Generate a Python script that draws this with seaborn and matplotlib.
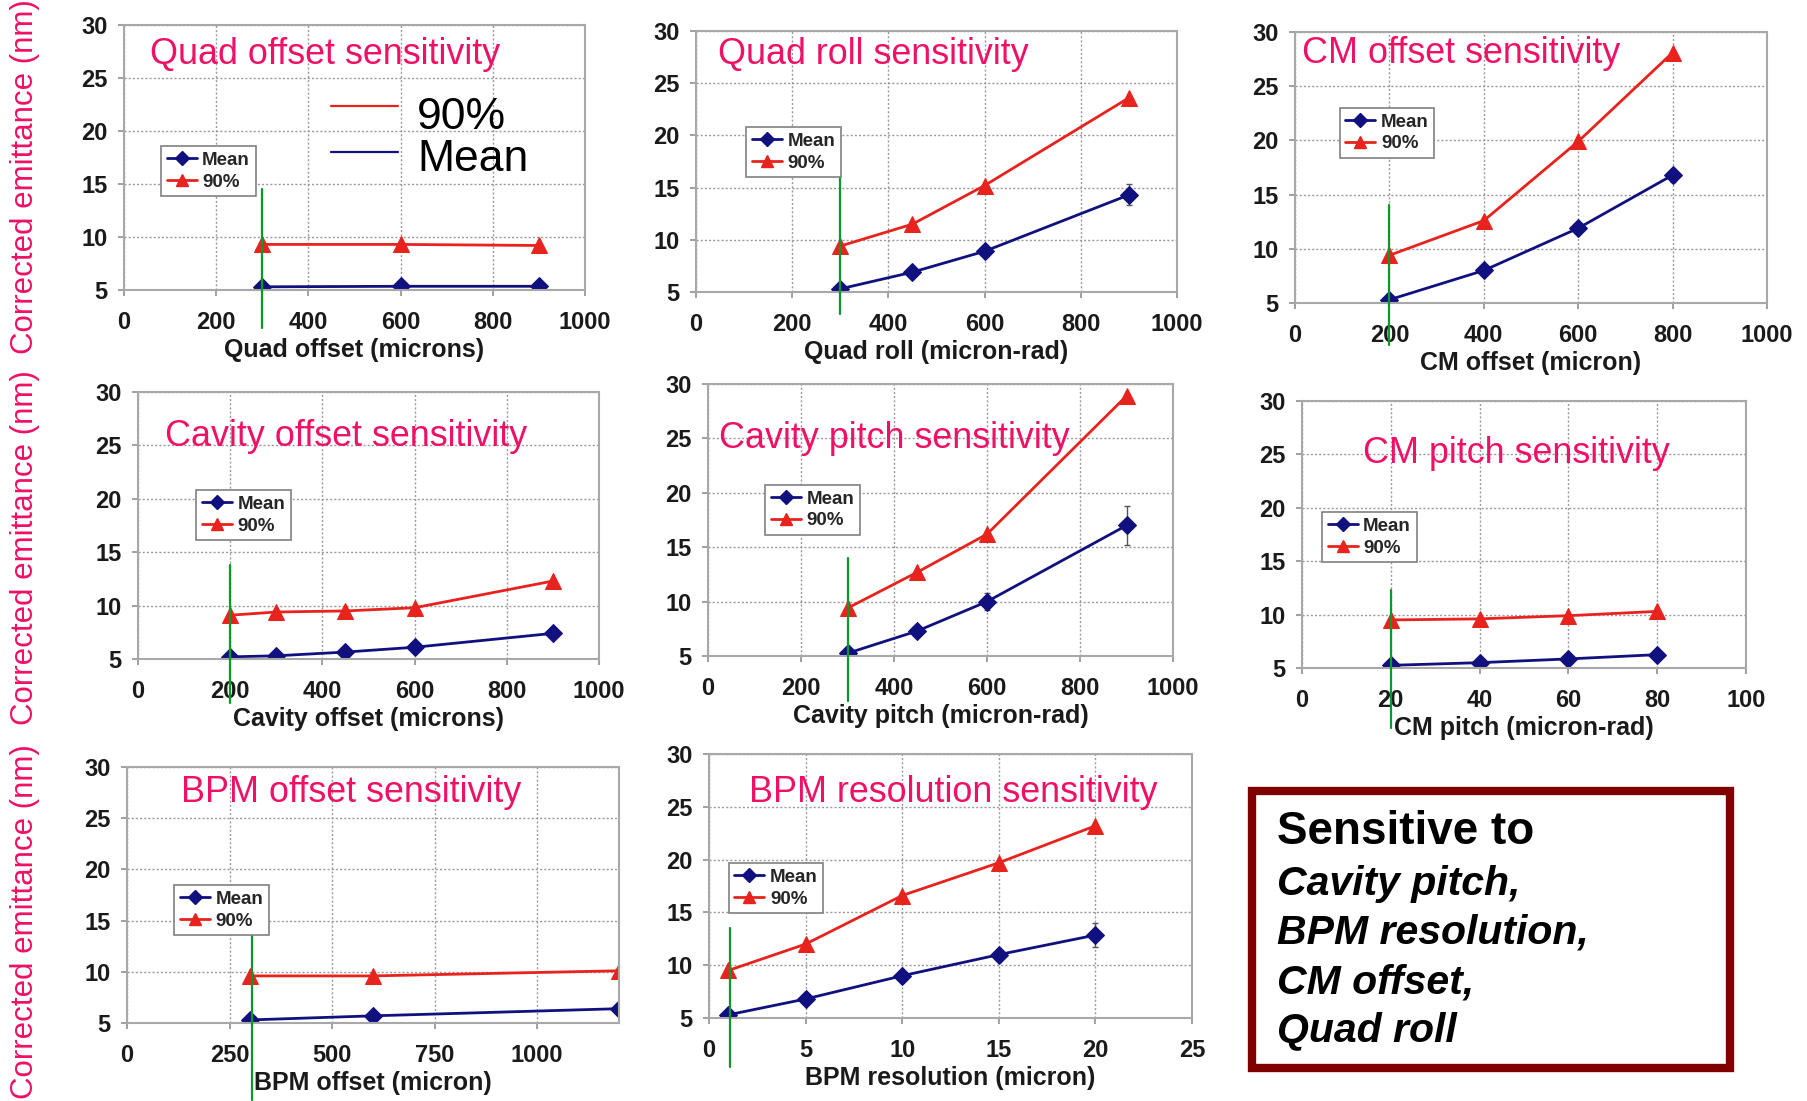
import matplotlib
matplotlib.use("Agg")
import matplotlib.pyplot as plt
from matplotlib.lines import Line2D
from matplotlib.patches import Rectangle
import seaborn as sns

# ---------------- data ----------------
quad_off_x = [300, 600, 900]
quad_off_mean = [5.3, 5.35, 5.35]
quad_off_p90 = [9.3, 9.3, 9.2]

quad_roll_x = [300, 450, 600, 900]
quad_roll_mean = [5.3, 6.9, 8.9, 14.3]
quad_roll_p90 = [9.4, 11.5, 15.2, 23.6]

cm_off_x = [200, 400, 600, 800]
cm_off_mean = [5.3, 8.0, 11.9, 16.8]
cm_off_p90 = [9.4, 12.6, 19.9, 28.1]

cav_off_x = [200, 300, 450, 600, 900]
cav_off_mean = [5.2, 5.3, 5.65, 6.1, 7.4]
cav_off_p90 = [9.1, 9.4, 9.5, 9.8, 12.3]

cav_pitch_x = [300, 450, 600, 900]
cav_pitch_mean = [5.25, 7.3, 10.0, 17.0]
cav_pitch_p90 = [9.4, 12.7, 16.2, 28.9]

cm_pitch_x = [20, 40, 60, 80]
cm_pitch_mean = [5.25, 5.5, 5.85, 6.25]
cm_pitch_p90 = [9.5, 9.6, 9.9, 10.3]

bpm_off_x = [300, 600, 1200]
bpm_off_mean = [5.3, 5.7, 6.4]
bpm_off_p90 = [9.6, 9.6, 10.1]

bpm_res_x = [1, 5, 10, 15, 20]
bpm_res_mean = [5.3, 6.8, 9.0, 11.0, 12.85]
bpm_res_p90 = [9.5, 12.0, 16.6, 19.7, 23.2]

titles = ["Quad offset sensitivity", "Quad roll sensitivity", "CM offset sensitivity",
          "Cavity offset sensitivity", "Cavity pitch sensitivity", "CM pitch sensitivity",
          "BPM offset sensitivity", "BPM resolution sensitivity"]
xlabels = ["Quad offset (microns)", "Quad roll (micron-rad)", "CM offset (micron)",
           "Cavity offset (microns)", "Cavity pitch (micron-rad)", "CM pitch (micron-rad)",
           "BPM offset (micron)", "BPM resolution (micron)"]
xmaxes = [1000, 1000, 1000, 1000, 1000, 100, 1200, 25]
xtick_steps = [200, 200, 200, 200, 200, 20, 250, 5]
yticks = [5, 10, 15, 20, 25, 30]

# nominal-value marker line (x, top y, bottom y)
green_x = [300, 300, 200, 200, 300, 20, 305, 1.1]
green_top = [14.5, 16.2, 14.0, 13.8, 14.0, 12.3, 16.0, 13.5]
green_bot = [1.4, 2.9, 1.1, 0.9, 0.9, -0.6, -2.5, 0.4]

# error bars on the Mean series: (panel index, x, y, half-width)
err_panel = [1, 4, 4, 7, 2]
err_x = [900, 900, 600, 20, 800]
err_y = [14.3, 17.0, 10.0, 12.85, 16.8]
err_e = [1.0, 1.8, 0.8, 1.1, 0.6]

ylabel = "Corrected emittance (nm)"
summary_head = "Sensitive to"
summary_items = ["Cavity pitch,", "BPM resolution,", "CM offset,", "Quad roll"]

xs = [quad_off_x, quad_roll_x, cm_off_x, cav_off_x, cav_pitch_x, cm_pitch_x, bpm_off_x, bpm_res_x]
means = [quad_off_mean, quad_roll_mean, cm_off_mean, cav_off_mean, cav_pitch_mean,
         cm_pitch_mean, bpm_off_mean, bpm_res_mean]
p90s = [quad_off_p90, quad_roll_p90, cm_off_p90, cav_off_p90, cav_pitch_p90,
        cm_pitch_p90, bpm_off_p90, bpm_res_p90]

# ---------------- style ----------------
sns.set_theme(style="whitegrid")
plt.rcParams['font.family'] = ['Liberation Sans', 'DejaVu Sans']

W, H = 1807, 1101
fig = plt.figure(figsize=(W / 100, H / 100), dpi=100)
fig.patch.set_facecolor("white")

# axes boxes in pixels: left, right, top, bottom
boxes = [(124, 585, 25, 290), (696, 1177, 31, 292), (1295, 1767, 32, 303),
         (138, 599, 392, 659), (708, 1173, 384, 656), (1302, 1746, 401, 668),
         (127, 619, 767, 1023), (709, 1192, 754, 1018)]
title_pos = [(0.056, 0.89), (0.046, 0.91), (0.015, 0.92), (0.059, 0.835),
             (0.024, 0.80), (0.137, 0.805), (0.11, 0.90), (0.083, 0.856)]
legend_pos = [(0.080, 0.543), (0.104, 0.632), (0.095, 0.72), (0.126, 0.633),
              (0.123, 0.629), (0.045, 0.584), (0.096, 0.539), (0.041, 0.587)]

NAVY = "#10107E"
RED = "#E8221C"
PINK = "#EE1166"
GRID = "#9A9A9A"

axes = []
for i, (l, r, t, b) in enumerate(boxes):
    ax = fig.add_axes([l / W, 1 - b / H, (r - l) / W, (b - t) / H])
    axes.append(ax)
    ax.set_facecolor("white")
    sns.lineplot(x=xs[i], y=means[i], ax=ax, color=NAVY, marker="D", markersize=9,
                 markeredgecolor=NAVY, linewidth=2.0, label="Mean")
    sns.lineplot(x=xs[i], y=p90s[i], ax=ax, color=RED, marker="^", markersize=11,
                 markeredgecolor=RED, linewidth=2.0, label="90%")
    ax.set_xlim(0, xmaxes[i])
    ax.set_ylim(5, 30)
    step = xtick_steps[i]
    ax.set_xticks(list(range(0, xmaxes[i] + 1, step)) if xmaxes[i] % step == 0
                  else list(range(0, xmaxes[i], step)))
    ax.set_yticks(yticks)
    ax.grid(True, color=GRID, linestyle=(0, (1.5, 1.5)), linewidth=1.0)
    for s in ax.spines.values():
        s.set_color("#A8A8A8")
        s.set_linewidth(1.5)
    ax.tick_params(axis="both", which="major", length=4, width=1.2, color="#909090",
                   direction="out", labelsize=17, labelcolor="#1A1A1A",
                   bottom=True, left=True)
    ax.tick_params(axis="x", pad=11)
    ax.tick_params(axis="y", pad=8)
    for lab in ax.get_xticklabels() + ax.get_yticklabels():
        lab.set_fontweight("bold")
    ax.set_xlabel(xlabels[i], fontsize=18, fontweight="bold", color="#1A1A1A", labelpad=3)
    ax.set_ylabel("")
    ax.text(title_pos[i][0], title_pos[i][1], titles[i], transform=ax.transAxes,
            fontsize=25.8, color=PINK, ha="left", va="center")
    # nominal marker line
    ax.plot([green_x[i], green_x[i]], [green_bot[i], green_top[i]], color="#0A9A2A",
            linewidth=1.6, clip_on=False, zorder=5)
    handles = [Line2D([], [], color=NAVY, marker="D", markersize=7.5, linewidth=2),
               Line2D([], [], color=RED, marker="^", markersize=8.5, linewidth=2)]
    leg = ax.legend(handles, ["Mean", "90%"], loc="upper left",
                    bbox_to_anchor=legend_pos[i], frameon=True, fancybox=False,
                    prop={"weight": "bold", "size": 13.5}, handlelength=1.6,
                    handletextpad=0.3, borderpad=0.3, labelspacing=0.25,
                    borderaxespad=0.0)
    leg.set_zorder(10)
    leg.get_frame().set_edgecolor("#808080")
    leg.get_frame().set_linewidth(1.2)
    leg.get_frame().set_facecolor("white")
    leg.get_frame().set_alpha(1.0)

for p, x, y, e in zip(err_panel, err_x, err_y, err_e):
    axes[p].errorbar([x], [y], yerr=[e], fmt="none", ecolor="#555555", elinewidth=1,
                     capsize=2, zorder=1)

# large extra legend inside first panel
ax0 = axes[0]
ax0.plot([0.449, 0.594], [0.694, 0.694], transform=ax0.transAxes, color=RED, linewidth=1.6)
ax0.plot([0.449, 0.594], [0.521, 0.521], transform=ax0.transAxes, color=NAVY, linewidth=1.6)
ax0.text(0.636, 0.652, "90%", transform=ax0.transAxes, fontsize=32, color="black",
         ha="left", va="center")
ax0.text(0.636, 0.492, "Mean", transform=ax0.transAxes, fontsize=32, color="black",
         ha="left", va="center")

# row y-labels
for yc in (177, 548, 922):
    fig.text(25 / W, 1 - yc / H, ylabel, rotation=90, fontsize=22.5, color=PINK,
             ha="center", va="center")

# summary box
rect = Rectangle((1252 / W, 1 - 1068 / H), (1730 - 1252) / W, (1068 - 791) / H,
                 transform=fig.transFigure, fill=False, edgecolor="#800000", linewidth=6)
fig.patches.append(rect)
fig.text(1277 / W, 1 - 832 / H, summary_head, fontsize=33, fontweight="bold",
         color="black", ha="left", va="center")
for k, item in enumerate(summary_items):
    fig.text(1277 / W, 1 - (884 + 49 * k) / H, item, fontsize=29.5, fontweight="bold",
             fontstyle="italic", color="black", ha="left", va="center")

fig.savefig("out.png", dpi=100, facecolor="white")
